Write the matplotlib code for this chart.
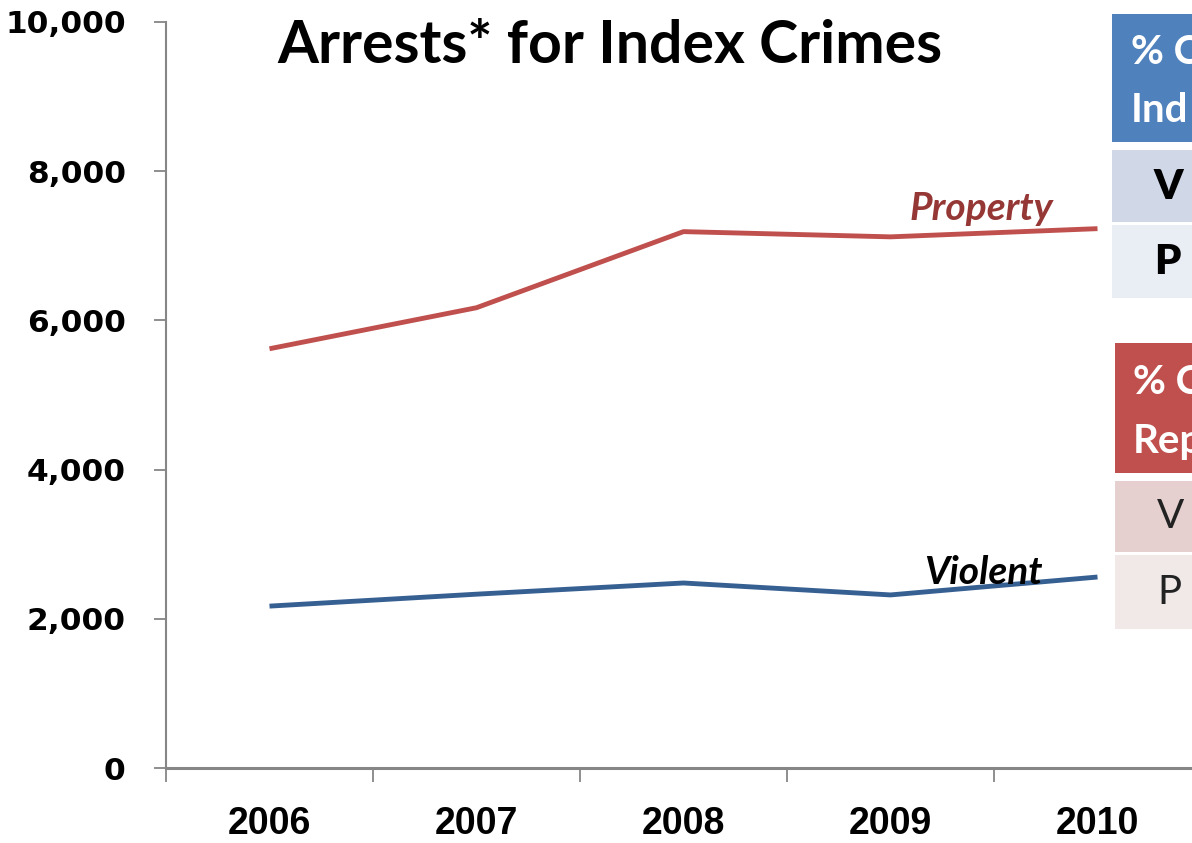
import matplotlib
matplotlib.use("Agg")
import matplotlib.pyplot as plt
from matplotlib.patches import Rectangle
from matplotlib import font_manager

years = ["2006", "2007", "2008", "2009", "2010"]
property_arrests = [5620, 6170, 7190, 7120, 7230]
violent_arrests = [2170, 2330, 2480, 2320, 2560]
yticks = [0, 2000, 4000, 6000, 8000, 10000]

names = {f.name for f in font_manager.fontManager.ttflist}
narrow = "Liberation Sans Narrow" if "Liberation Sans Narrow" in names else "Liberation Sans"
body = "Lato" if "Lato" in names else "DejaVu Sans"

W, H = 1192, 843
fig = plt.figure(figsize=(W / 100, H / 100), dpi=100)
ax = fig.add_axes([166 / W, 75 / H, 1035 / W, 746 / H])

x = list(range(len(years)))
ax.plot(x, property_arrests, color="#C0504D", lw=3.5, solid_capstyle="butt")
ax.plot(x, violent_arrests, color="#376092", lw=3.5, solid_capstyle="butt")

ax.set_xlim(-0.5, len(years) - 0.5)
ax.set_ylim(0, 10000)
ax.set_yticks(yticks)
ax.set_yticklabels([f"{v:,}" for v in yticks], fontsize=22.5, fontweight="bold",
                   family="DejaVu Sans")
ax.set_xticks([i - 0.5 for i in range(len(years) + 1)])
ax.set_xticklabels([])
ax.set_xticks(x, minor=True)
ax.set_xticklabels(years, minor=True, fontsize=27, fontweight="bold", family=narrow)
ax.tick_params(axis="x", which="major", length=10, width=1.3, color="#868686", direction="out")
ax.tick_params(axis="x", which="minor", length=0, pad=27)
ax.tick_params(axis="y", length=9, width=1.3, color="#868686", pad=20)
for s in ["top", "right"]:
    ax.spines[s].set_visible(False)
for s in ["left", "bottom"]:
    ax.spines[s].set_color("#868686")
    ax.spines[s].set_linewidth(1.5)
ax.spines["bottom"].set_linewidth(2.2)

ax.text(3.44, 7500, "Property", color="#953735", fontsize=28, fontweight="bold",
        style="italic", family=body, ha="center", va="center")
ax.text(3.45, 2620, "Violent", color="black", fontsize=28, fontweight="bold",
        style="italic", family=body, ha="center", va="center")

fig.text(610 / W, 1 - 46 / H, "Arrests* for Index Crimes", fontsize=42.5, fontweight="bold",
         family=body, ha="center", va="center")

def box(x0, y0, x1, y1, color):
    fig.patches.append(Rectangle((x0 / W, 1 - y1 / H), (x1 - x0) / W, (y1 - y0) / H,
                                 transform=fig.transFigure, facecolor=color,
                                 edgecolor="none", zorder=5))

box(1112, 14, 1200, 142, "#4F81BD")
box(1112, 150, 1200, 222, "#D0D8E8")
box(1112, 225, 1200, 298, "#E9EDF4")
box(1115, 343, 1200, 473, "#C0504D")
box(1115, 481, 1200, 552, "#E6CFCF")
box(1115, 555, 1200, 629, "#F1E8E8")

def ftext(px, py, s, **kw):
    fig.text(px / W, 1 - py / H, s, va="center", ha="left", family=body, zorder=6, **kw)

ftext(1131, 52, "% C", color="white", fontsize=29, fontweight="bold")
ftext(1131, 110, "Ind", color="white", fontsize=29, fontweight="bold")
ftext(1154, 187, "V", color="black", fontsize=30, fontweight="heavy")
ftext(1154, 262, "P", color="black", fontsize=30, fontweight="heavy")
ftext(1133, 382, "% C", color="white", fontsize=29, fontweight="bold")
ftext(1133, 441, "Rep", color="white", fontsize=29, fontweight="bold")
ftext(1157, 517, "V", color="#222222", fontsize=29)
ftext(1157, 593, "P", color="#222222", fontsize=29)

fig.savefig("out.png", dpi=100)
